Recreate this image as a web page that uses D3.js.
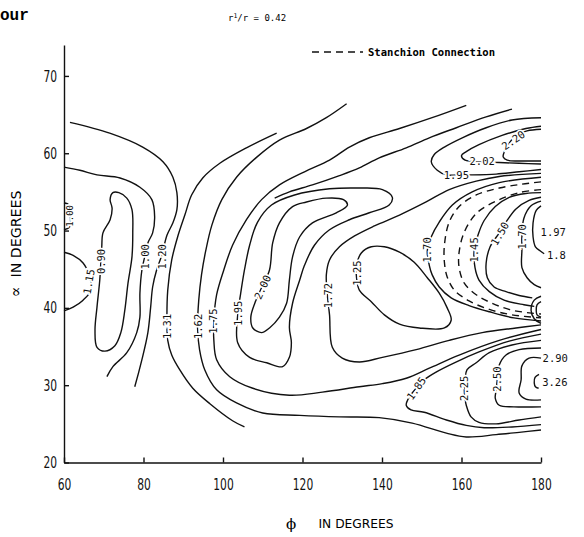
<!DOCTYPE html>
<html><head><meta charset="utf-8">
<script src="https://cdn.jsdelivr.net/npm/d3@7"></script>
<style>
body{margin:0;background:#fff;}
svg{display:block;}
</style></head><body>
<svg id="chart" width="584" height="537"></svg>
<script>
// ---------- data (phi, alpha) in degrees ----------
const xTicks = [60, 80, 100, 120, 140, 160, 180];
const yTicks = [20, 30, 40, 50, 60, 70];

const c100b = [[60,53.6],[61.3,53.3],[61.6,52.0],[61.6,50.8],[61.3,50.4],[60,50.1]];
const c115 = [[60,47.2],[62.3,46.8],[64.8,45.8],[66.5,44.0],[66.8,42.3],[64.8,41.0],[62.3,40.1],[60,39.6]];
const c090 = [[72.3,54.9],[71.6,54.0],[72.1,52.9],[71.6,51.4],[69.8,49.7],[69.5,47.9],[69.3,46.2],[69.0,43.6],[68.3,40.1],[67.8,37.1],[68.3,34.9],[70.3,34.4],[72.8,35.1],[74.3,36.8],[75.3,39.7],[76.1,43.2],[77.1,46.6],[77.3,49.7],[77.1,52.7],[75.8,54.2],[73.8,54.9]];
const c100 = [[60,58.2],[64.0,57.8],[68.3,57.2],[74.1,56.8],[79.1,55.6],[82.1,54.0],[82.8,51.8],[82.3,49.7],[81.1,48.4],[80.3,46.6],[79.6,44.9],[79.1,41.9],[79.1,38.8],[78.3,36.8],[75.8,34.2],[72.3,32.4],[70.8,31.1]];
const c120 = [[61.5,64.0],[71.5,62.6],[79.8,60.8],[84.9,58.9],[87.4,56.9],[88.4,54.9],[88.4,52.7],[87.4,51.0],[85.9,49.4],[84.6,46.8],[83.3,44.9],[82.3,42.7],[81.8,40.1],[81.1,36.8],[79.6,33.3],[77.8,29.8]];
const c131 = [[113.5,62.6],[105.9,60.7],[99.2,58.7],[94.9,56.8],[92.1,54.6],[90.4,52.0],[88.6,49.2],[87.1,46.2],[86.1,42.3],[85.9,38.4],[86.1,35.8],[87.1,33.9],[89.1,32.0],[92.4,29.6],[96.7,27.6],[102.4,25.4],[105.4,24.6]];
const c162 = [[131.1,66.4],[126.0,64.6],[121.0,63.2],[114.2,61.7],[108.5,59.5],[103.4,56.9],[99.7,54.0],[97.2,50.7],[95.7,47.5],[94.6,44.3],[93.9,41.0],[93.6,37.4],[94.1,34.6],[95.4,32.0],[98.4,29.4],[103.4,27.7],[110.0,26.4],[119.3,26.1],[129.3,25.9],[139.3,25.8],[147.6,25.1],[156.2,23.8],[161.2,23.3],[168.7,23.6],[174.5,23.9],[180,24.2]];
const c175 = [[161.2,66.2],[152.6,64.6],[144.4,63.2],[136.8,62.0],[131.8,60.8],[126.8,59.1],[120.5,57.6],[114.2,55.9],[109.7,54.0],[105.9,51.4],[102.4,48.1],[100.2,44.9],[98.4,41.7],[97.7,38.4],[97.7,35.8],[98.4,33.3],[101.7,31.1],[107.5,29.6],[116.7,28.7],[125.0,29.1],[134.3,29.8],[140.1,30.2],[146.1,30.9],[151.9,32.2],[159.4,33.9],[169.5,35.8],[180,37.2]];
const c185u = [[172.7,65.7],[166.2,64.7],[158.7,63.3],[151.9,62.0],[146.1,60.7],[139.3,59.4],[134.3,58.1],[129.3,57.1],[122.5,55.9],[116.7,55.0],[113.0,54.2]];
const c195 = [[103.7,35.5],[103.7,39.1],[104.4,41.7],[105.4,44.9],[106.7,48.1],[108.7,51.1],[112.2,53.3],[118.0,54.6],[126.8,55.4],[134.3,55.5],[140.1,55.3],[142.6,54.3],[141.8,53.3],[136.8,52.3],[131.8,51.4],[126.8,50.1],[123.0,48.1],[120.5,45.5],[119.3,43.6],[117.5,40.6],[116.7,37.5],[117.2,35.5],[116.7,33.6],[115.0,32.4],[111.0,32.9],[106.7,33.6]];
const c200 = [[109.7,36.8],[107.5,37.4],[107.0,38.8],[108.0,40.6],[109.7,42.6],[111.7,44.9],[112.5,48.4],[114.2,51.0],[117.5,53.1],[121.0,53.7],[126.0,54.2],[130.3,54.0],[131.3,53.3],[128.5,52.3],[122.5,51.0],[119.3,49.2],[117.5,46.6],[116.7,43.6],[116.0,40.6],[114.2,38.8],[111.7,37.4]];
const c172 = [[180,57.4],[169.5,57.0],[163.7,56.4],[156.9,55.3],[151.1,53.7],[144.4,52.0],[138.1,50.6],[133.1,49.3],[129.3,47.9],[126.8,46.2],[126.0,44.3],[126.3,41.4],[126.8,39.1],[127.5,34.9],[130.0,33.5],[134.3,33.0],[140.1,33.6],[148.6,34.6],[156.9,35.8],[165.2,36.8],[173.7,37.4],[180,37.8]];
const c125 = [[133.6,45.5],[134.8,47.1],[137.3,47.9],[140.6,47.9],[144.4,47.2],[148.1,45.9],[151.4,43.9],[154.4,41.9],[156.4,40.0],[157.4,38.4],[155.7,37.4],[149.4,37.4],[144.4,37.9],[140.6,39.1],[137.3,40.8],[134.3,42.3],[133.6,43.9]];
const c170a = [[180,56.9],[169.5,56.2],[162.7,55.0],[157.7,53.3],[154.4,51.1],[152.4,49.2],[151.4,47.4],[151.9,45.5],[152.6,44.3],[154.4,42.7],[157.4,41.3],[161.9,40.3],[167.0,39.5],[173.2,38.7],[180,38.3]];
const dashOuter = [[180,56.3],[175.2,56.0],[169.5,55.5],[163.7,54.6],[159.4,53.1],[156.9,51.1],[155.7,48.1],[155.7,45.9],[156.4,44.0],[158.2,42.3],[161.9,40.9],[167.0,39.8],[172.7,39.1],[180,38.7]];
const dashInner = [[180,55.3],[174.5,54.9],[168.7,53.8],[163.9,52.3],[160.7,49.8],[159.4,47.2],[159.4,45.2],[160.7,43.2],[163.7,41.7],[167.7,40.6],[172.7,39.7],[180,39.2]];
const c145 = [[180,54.9],[176.2,54.8],[172.0,54.3],[168.5,53.1],[165.7,51.3],[164.2,49.5],[163.2,47.5],[163.4,45.2],[164.4,43.6],[167.0,42.1],[170.7,41.0],[175.7,40.4],[178.3,40.2]];
const c150 = [[180,54.3],[177.0,53.9],[173.7,52.8],[171.2,51.1],[169.5,49.7],[167.2,47.9],[166.2,45.8],[166.5,43.9],[168.2,42.7],[171.2,42.1],[174.5,41.6],[177.8,41.3]];
const c170b = [[180,53.8],[177.5,53.2],[175.7,51.6],[175.2,49.4],[175.2,47.5],[175.2,45.2],[176.5,43.9],[178.3,43.0],[180,42.6]];
const c197 = [[180,53.2],[178.8,52.6],[178.0,51.0],[178.0,49.2],[178.6,47.9],[180,47.3],[180.8,47.0]];
const ring1 = [[180,41.5],[178.3,41.0],[177.5,39.7],[178.3,38.6],[180,38.0]];
const ring2 = [[180,40.8],[179.0,40.4],[178.8,39.7],[179.0,39.1],[180,38.8]];
const c195u = [[180,64.6],[172.7,64.3],[166.2,63.3],[160.2,62.0],[155.7,60.8],[153.1,59.8],[152.4,58.9],[153.9,57.8],[156.2,57.2],[159.0,57.2],[162.7,57.2],[168.7,57.3],[174.5,57.6],[180,57.9]];
const c202 = [[180,63.5],[176.2,63.2],[170.2,62.3],[164.4,61.1],[161.2,60.2],[160.0,59.7],[160.9,59.1],[165.2,58.9],[169.5,58.8],[174.5,58.7],[180,58.6]];
const c220 = [[180,63.1],[176.5,62.9],[174.0,62.4],[172.0,61.3],[170.7,60.1],[170.5,59.5],[171.5,59.1],[174.5,59.0],[180,59.0]];
const c185 = [[180,36.6],[172.0,35.7],[164.4,34.3],[158.2,32.9],[153.6,31.7],[150.6,30.7],[148.6,29.6],[146.9,28.5],[146.1,27.4],[147.3,26.8],[150.6,26.5],[156.2,25.5],[161.2,24.8],[165.7,24.5],[172.7,24.6],[180,24.9]];
const c225 = [[180,35.8],[172.7,35.2],[167.0,34.2],[163.7,32.9],[161.4,32.0],[160.9,30.7],[160.7,29.4],[160.9,28.2],[161.2,27.4],[162.4,25.9],[164.4,25.2],[168.7,25.0],[174.5,25.5],[180,25.9]];
const c250 = [[180,34.8],[174.5,34.6],[171.2,33.9],[169.5,32.6],[169.0,30.7],[168.7,29.3],[168.5,28.3],[169.5,27.4],[173.2,27.2],[180,27.2]];
const c290 = [[180,33.5],[177.0,33.5],[175.2,32.5],[175.0,30.7],[174.5,29.0],[176.2,28.2],[180,28.1]];
const c326 = [[179.5,31.4],[178.5,31.0],[178.3,30.3],[178.6,29.8],[179.4,29.6]];

// contour labels: text, phi, alpha, rotation
const inLabels = [
  ["1.00",61.6,51.9,-90],["0.90",69.4,46.0,-90],["1.15",66.2,43.4,-80],
  ["1.00",80.3,46.6,-90],["1.20",84.6,46.6,-90],["1.31",85.9,37.6,-90],
  ["1.62",93.6,37.6,-90],["1.75",97.6,38.3,-90],["1.95",103.7,39.3,-90],
  ["2.00",109.9,42.7,-65],["1.72",126.3,41.6,-90],["1.25",133.6,44.5,-90],
  ["1.70",151.4,47.5,-90],["1.45",163.2,47.5,-90],["1.50",169.6,49.6,-60],
  ["1.70",175.2,49.2,-90],["1.85",148.6,29.6,-55],["2.25",160.7,29.6,-90],
  ["2.50",169.0,30.8,-90],["1.95",158.7,57.2,0],["2.02",165.2,59.0,0],
  ["2.20",173.0,61.7,-35]
];
const outLabels = [["2.90",180.4,33.5],["3.26",180.3,30.4],["1.97",179.9,49.8],["1.8",181.5,46.9]];

// ---------- drawing ----------
const svg = d3.select("#chart");
const x = d3.scaleLinear().domain([60,180]).range([64,541]);
const y = d3.scaleLinear().domain([20,74]).range([462.5,45]);

const solid = [c100b,c115,c100,c120,c131,c162,c175,c185u,c172,c170a,c145,c150,c170b,c197,ring1,ring2,c195u,c202,c220,c185,c225,c250,c290,c326];
const closed = [c090,c195,c200,c125];
const dashed = [dashOuter,dashInner];

const lineOpen = d3.line().x(d=>x(d[0])).y(d=>y(d[1])).curve(d3.curveCatmullRom.alpha(0.5));
const lineClosed = d3.line().x(d=>x(d[0])).y(d=>y(d[1])).curve(d3.curveCatmullRomClosed.alpha(0.5));

const gC = svg.append("g").attr("fill","none").attr("stroke","#111").attr("stroke-width",1.4).attr("stroke-linejoin","round");
gC.selectAll("path.o").data(solid).join("path").attr("class","o").attr("d",lineOpen);
gC.selectAll("path.c").data(closed).join("path").attr("class","c").attr("d",lineClosed);
gC.selectAll("path.d").data(dashed).join("path").attr("class","d").attr("d",lineOpen).attr("stroke-dasharray","7,5");

const lblFont = "'DejaVu Sans Mono', monospace";
svg.append("g").selectAll("text").data(inLabels).join("text")
  .attr("transform",d=>`translate(${x(d[1])},${y(d[2])}) rotate(${d[3]})`)
  .attr("text-anchor","middle").attr("dominant-baseline","central")
  .attr("font-family",lblFont).attr("font-size",(d,i)=>i===0?9:10.5)
  .attr("fill","#111").attr("stroke","#fff").attr("stroke-width",3.5)
  .attr("paint-order","stroke")
  .text(d=>d[0]);
svg.append("g").selectAll("text").data(outLabels).join("text")
  .attr("x",d=>x(d[1])).attr("y",d=>y(d[2]))
  .attr("dominant-baseline","central")
  .attr("font-family",lblFont).attr("font-size",10.5).attr("fill","#111")
  .text(d=>d[0]);

// axes
const axFont = "'DejaVu Sans',sans-serif";
const xa = svg.append("g").attr("transform",`translate(0,${y(20)})`)
  .call(d3.axisBottom(x).tickValues(xTicks).tickSize(-5).tickSizeOuter(0).tickPadding(16).tickFormat(d3.format("d")));
const ya = svg.append("g").attr("transform",`translate(${x(60)},0)`)
  .call(d3.axisLeft(y).tickValues(yTicks).tickSize(-5).tickSizeOuter(0).tickPadding(8).tickFormat(d3.format("d")));
[xa,ya].forEach(a=>{
  a.selectAll("path,line").attr("stroke","#111").attr("stroke-width",1.4);
  a.selectAll("text").attr("font-family",axFont).attr("font-size",16).attr("fill","#111")
    .attr("textLength",d=>String(d).length*6.8).attr("lengthAdjust","spacingAndGlyphs");
});
ya.selectAll("text").attr("x",-7);

// axis titles
svg.append("text").attr("x",291).attr("y",524).attr("text-anchor","middle")
  .attr("dominant-baseline","central").attr("font-family","'DejaVu Serif',serif").attr("font-size",15).text("ϕ");
svg.append("text").attr("x",356).attr("y",523).attr("text-anchor","middle")
  .attr("dominant-baseline","central").attr("font-family",axFont).attr("font-size",13)
  .attr("textLength",75).attr("lengthAdjust","spacingAndGlyphs").text("IN DEGREES");
svg.append("text").attr("transform","translate(15.5,234) rotate(-90)").attr("text-anchor","middle")
  .attr("dominant-baseline","central").attr("font-family",axFont).attr("font-size",14)
  .attr("textLength",87).attr("lengthAdjust","spacingAndGlyphs").text("IN DEGREES");
svg.append("text").attr("transform","translate(15.5,292) rotate(-90)").attr("text-anchor","middle")
  .attr("dominant-baseline","central").attr("font-family","'DejaVu Serif',serif").attr("font-size",16).text("∝");

// header texts
svg.append("text").attr("x",0).attr("y",20).attr("font-family","'Liberation Mono',monospace")
  .attr("font-size",16).attr("font-weight","bold").text("our");
const t = svg.append("text").attr("x",228).attr("y",21).attr("font-family","'DejaVu Sans Mono',monospace").attr("font-size",9);
t.append("tspan").text("r");
t.append("tspan").attr("dy",-3).attr("font-size",6.5).text("1");
t.append("tspan").attr("dy",3).text("/r = 0.42");

// legend
svg.append("line").attr("x1",312).attr("x2",363).attr("y1",52).attr("y2",52)
  .attr("stroke","#111").attr("stroke-width",1.4).attr("stroke-dasharray","7,5");
svg.append("text").attr("x",368).attr("y",52).attr("dominant-baseline","central")
  .attr("font-family","'DejaVu Sans Mono',monospace").attr("font-weight","bold").attr("font-size",10)
  .attr("textLength",127).attr("lengthAdjust","spacingAndGlyphs").text("Stanchion Connection");
</script>
</body></html>
